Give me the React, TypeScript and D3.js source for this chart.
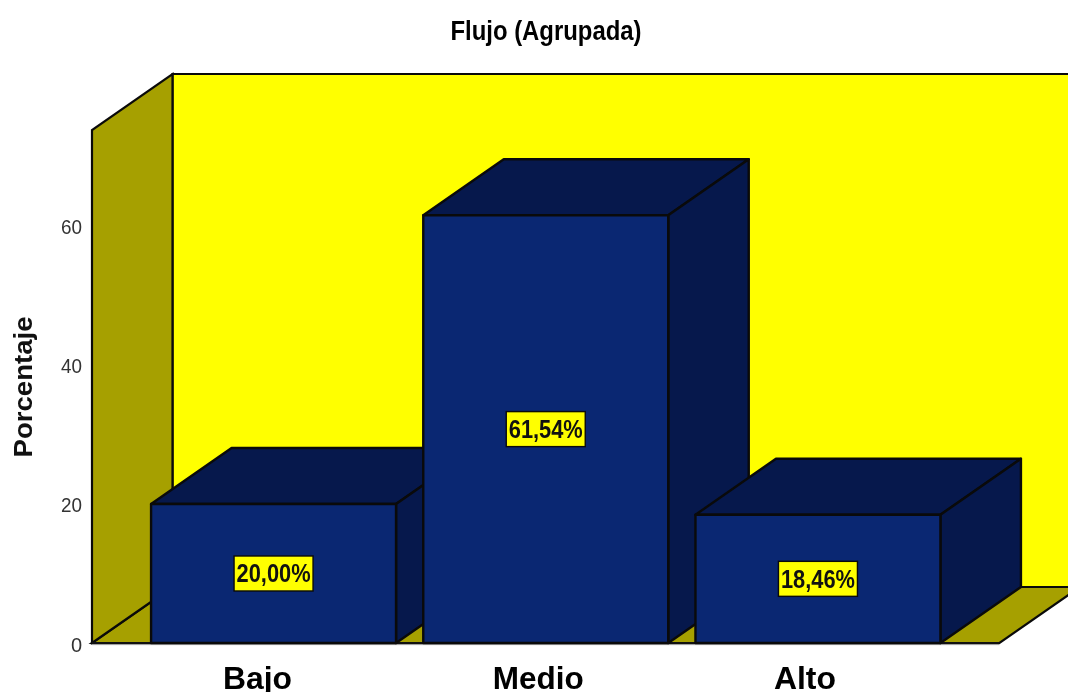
import React from "react";
import * as d3 from "d3";

const categories = ["Bajo", "Medio", "Alto"];
const values = [20.0, 61.54, 18.46];
const valueLabels = ["20,00%", "61,54%", "18,46%"];
const yTicks = [0, 20, 40, 60];
const title = "Flujo (Agrupada)";
const yTitle = "Porcentaje";

const W = 1068, H = 692;
const depthX = 80.5, depthY = 56;
const x = d3.scaleBand<string>().domain(categories).range([92, 999.5]).paddingInner(0.1).paddingOuter(0.217);
const y = d3.scaleLinear().domain([0, 73.8]).range([643, 130]);

const catOffsets = [-16, -7.5, -13];
const catWidths = [69, 91, 62];

const WALL = "#a6a000", YEL = "#ffff00", FRONT = "#0a2772", DARK = "#06184c", INK = "#0a0a0a";
const poly = (p: number[][]) => p.map(q => q.join(",")).join(" ");
const sans = "'Liberation Sans',Arial,sans-serif";

export default function App() {
  const y0 = y(0), yT = y(y.domain()[1]), xL = x.range()[0], xR = x.range()[1];
  return (
    <svg width={W} height={H} viewBox={`0 0 ${W} ${H}`} style={{ position: "absolute", left: 0, top: 0, display: "block", background: "#fff" }}>
      <style>{`html,body{margin:0;overflow:hidden}`}</style>
      <defs>
        <filter id="soft" x="-2%" y="-2%" width="104%" height="104%" colorInterpolationFilters="sRGB">
          <feGaussianBlur stdDeviation="0.45" />
        </filter>
      </defs>
      <g filter="url(#soft)">
        <text x={546} y={40} textAnchor="middle" fontFamily={sans} fontWeight="bold" fontSize={27} textLength={191} lengthAdjust="spacingAndGlyphs" fill="#000">{title}</text>

        {/* back wall, floor, side wall */}
        <polygon points={poly([[xL + depthX, yT - depthY], [xR + depthX, yT - depthY], [xR + depthX, y0 - depthY], [xL + depthX, y0 - depthY]])} fill={YEL} stroke={INK} strokeWidth={2.2} />
        <polygon points={poly([[xL, y0], [xL + depthX, y0 - depthY], [xR + depthX, y0 - depthY], [xR, y0]])} fill={WALL} stroke={INK} strokeWidth={2.2} />
        <polygon points={poly([[xL, y0], [xL, yT], [xL + depthX, yT - depthY], [xL + depthX, y0 - depthY]])} fill={WALL} stroke={INK} strokeWidth={2.2} />
        <line x1={xL} x2={xR} y1={y0} y2={y0} stroke="#111" strokeWidth={2.2} />
        <line x1={xL} x2={xR} y1={y0 + 1.6} y2={y0 + 1.6} stroke="#999" strokeWidth={1} />

        {/* y ticks */}
        {yTicks.map(t => (
          <text key={t} x={82} y={y(t) + 8.5} textAnchor="end" fontFamily={sans} fontSize={20} {...(t > 0 ? { textLength: 21, lengthAdjust: "spacingAndGlyphs" } : {})} fill="#333">{t}</text>
        ))}
        <text transform="translate(32,387) rotate(-90)" textAnchor="middle" fontFamily={sans} fontWeight="bold" fontSize={26} textLength={141} lengthAdjust="spacingAndGlyphs" fill="#111">{yTitle}</text>

        {/* bars */}
        {categories.map((c, i) => {
          const l = x(c)!, r = l + x.bandwidth(), t = y(values[i]);
          return (
            <g key={c} stroke={INK} strokeWidth={2.4} strokeLinejoin="round">
              <polygon points={poly([[l, t], [l + depthX, t - depthY], [r + depthX, t - depthY], [r, t]])} fill={DARK} />
              <polygon points={poly([[r, t], [r + depthX, t - depthY], [r + depthX, y0 - depthY], [r, y0]])} fill={DARK} />
              <rect x={l} y={t} width={x.bandwidth()} height={y0 - t} fill={FRONT} />
            </g>
          );
        })}

        {/* value labels */}
        {categories.map((c, i) => {
          const cx = x(c)! + x.bandwidth() / 2, cy = y(values[i] / 2);
          return (
            <g key={c}>
              <rect x={cx - 39.5} y={cy - 17.5} width={79} height={35} fill={YEL} stroke={INK} strokeWidth={1.4} />
              <text x={cx} y={cy + 9} textAnchor="middle" fontFamily={sans} fontWeight="bold" fontSize={25} textLength={74} lengthAdjust="spacingAndGlyphs" fill="#111">{valueLabels[i]}</text>
            </g>
          );
        })}

        {/* category labels */}
        {categories.map((c, i) => (
          <text key={c} x={x(c)! + x.bandwidth() / 2 + catOffsets[i]} y={689} textAnchor="middle" fontFamily={sans} fontWeight="bold" fontSize={32} textLength={catWidths[i]} lengthAdjust="spacingAndGlyphs" fill="#000">{c}</text>
        ))}
      </g>
    </svg>
  );
}
